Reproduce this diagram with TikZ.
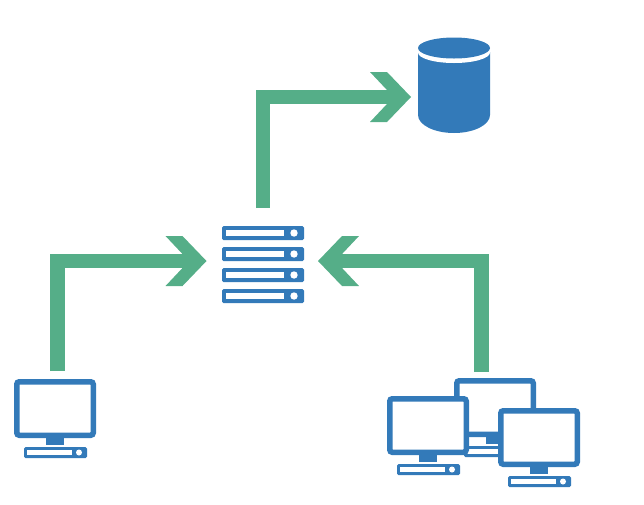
\documentclass[tikz,border=0pt]{standalone}
\usetikzlibrary{arrows.meta}
\definecolor{iconblue}{HTML}{337AB9}
\definecolor{flowgreen}{HTML}{55AE88}
\pgfdeclarearrow{
  name=Chevron,
  setup code={\pgfarrowssettipend{0pt}\pgfarrowssetbackend{-41pt}\pgfarrowssetlineend{-20pt}\pgfarrowssetvisualbackend{-25pt}},
  drawing code={
    \pgfpathmoveto{\pgfqpoint{0pt}{0pt}}
    \pgfpathlineto{\pgfqpoint{-24pt}{25pt}}
    \pgfpathlineto{\pgfqpoint{-41pt}{25pt}}
    \pgfpathlineto{\pgfqpoint{-24.5pt}{7.5pt}}
    \pgfpathlineto{\pgfqpoint{-24.5pt}{-7.5pt}}
    \pgfpathlineto{\pgfqpoint{-41pt}{-25pt}}
    \pgfpathlineto{\pgfqpoint{-24pt}{-25pt}}
    \pgfpathclose
    \pgfusepathqfill
  }
}
\tikzset{
  flow/.style={draw=flowgreen, line width=14.5pt, -{Chevron}},
  slotted/.style={rectangle, fill=iconblue, rounded corners=1.5pt, inner sep=0pt, outer sep=0pt},
  rack/.style={slotted, minimum width=82pt, minimum height=14pt,
    path picture={
      \fill[white, sharp corners] ([shift={(4pt,-4pt)}]path picture bounding box.north west) rectangle ([shift={(-20pt,4pt)}]path picture bounding box.south east);
      \fill[white] ([xshift=-10pt]path picture bounding box.east) circle (3.7pt);
    }},
  tower/.style={slotted, minimum width=63pt, minimum height=11pt,
    path picture={
      \fill[white, sharp corners] ([shift={(3pt,-3pt)}]path picture bounding box.north west) rectangle ([shift={(-15pt,3pt)}]path picture bounding box.south east);
      \fill[white] ([xshift=-8pt]path picture bounding box.east) circle (3pt);
    }},
  monitor/.style={rectangle, draw=iconblue, fill=white, line width=5.5pt, rounded corners=2.5pt, minimum width=76.5pt, minimum height=53.5pt, inner sep=0pt},
  stand/.style={rectangle, fill=iconblue, inner sep=0pt, minimum width=18pt, minimum height=12pt},
  frame/.style={rectangle, inner sep=0pt, outer sep=0pt}
}
\begin{document}
\begin{tikzpicture}[x=1pt,y=-1pt]
  \useasboundingbox (0,0) rectangle (644,504);

  \node[rack] (rack1) at (263,233) {};
  \node[rack] (rack2) at (263,254) {};
  \node[rack] (rack3) at (263,275) {};
  \node[rack] (rack4) at (263,296) {};
  \node[frame, minimum width=82pt, minimum height=77pt] (server) at (263,264.5) {};

  \node[frame, minimum width=72pt, minimum height=95pt] (db) at (454,85.5) {};
  \fill[iconblue] (db.west |- 0,52) -- (db.west |- 0,115) arc[start angle=180, end angle=360, x radius=36, y radius=-18] -- (db.east |- 0,52) -- cycle;
  \fill[white] (454,52.5) ellipse[x radius=36, y radius=10.5];
  \fill[iconblue] (454,48) ellipse[x radius=36, y radius=10.5];

  \node[stand] (pcstand) at (55,439) {};
  \node[tower] (pctower) at (55.5,452.5) {};
  \node[monitor] (pc) at (55,408.5) {};

  \node[stand] (pcbstand) at (495,438) {};
  \node[tower] (pcbtower) at (495.5,451.5) {};
  \node[monitor] (pcb) at (495,407.5) {};

  \node[stand] (pcastand) at (428,456) {};
  \node[tower] (pcatower) at (428.5,469.5) {};
  \node[monitor] (pca) at (428,425.5) {};

  \node[stand] (pccstand) at (539,468) {};
  \node[tower] (pcctower) at (539.5,481.5) {};
  \node[monitor] (pcc) at (539,437.5) {};

  \draw[flow] ([yshift=18pt]server.north) |- ([shift={(-7pt,-11.5pt)}]db.west);
  \draw[flow] ([shift={(2.7pt,8pt)}]pc.north) |- ([shift={(-15.5pt,3.5pt)}]server.west);
  \draw[flow] ([shift={(-13.5pt,6pt)}]pcb.north) |- ([shift={(14pt,3.5pt)}]server.east);
\end{tikzpicture}
\end{document}
